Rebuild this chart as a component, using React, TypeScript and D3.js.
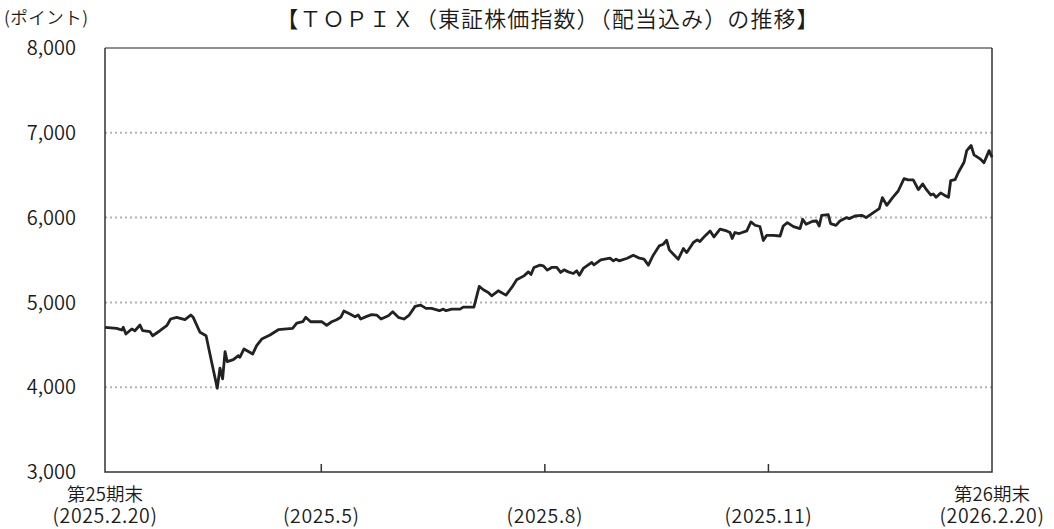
import { useEffect, useRef } from "react";
import * as d3 from "d3";

// days since 2025.2.20 (end of 25th term)
const days = [
  0, 4.8, 6.9, 7.5, 8.6, 11.0, 12.3, 14.4, 15.5, 18.5, 19.6, 22.6, 25.4, 27.0, 29.5, 32.9, 35.3, 36.3,
  39.1, 41.6, 43.9, 46.2, 47.3, 48.4, 49.4, 50.3, 52.8, 54.9, 55.5, 57.2, 60.8, 62.4, 64.5, 67.9, 71.3,
  77.2, 78.9, 81.4, 82.6, 84.6, 89.2, 91.2, 93.3, 95.3, 97.0, 98.3, 100.8, 102.9, 104.2, 105.2, 107.7,
  109.7, 111.8, 113.6, 116.6, 118.4, 120.7, 123.0, 125.2, 127.6, 129.9, 132.1, 134.4, 137.6, 139.2,
  140.3, 142.7, 146.1, 147.4, 151.8, 154.0, 155.7, 157.7, 159.1, 161.8, 165.0, 167.4, 169.4, 172.4,
  174.2, 175.3, 176.5, 179.0, 180.4, 182.0, 183.8, 185.9, 187.5, 188.9, 190.6, 192.7, 194.1, 195.2,
  196.8, 199.3, 200.3, 201.2, 204.0, 207.8, 209.2, 210.3, 211.6, 214.9, 217.4, 219.9, 221.8, 223.6,
  225.6, 228.1, 229.7, 231.1, 232.2, 234.1, 235.9, 238.0, 239.4, 242.1, 243.7, 244.8, 246.9, 249.0,
  250.6, 253.1, 255.8, 257.2, 258.1, 259.2, 261.0, 264.1, 265.8, 267.5, 269.5, 270.9, 272.3, 275.0,
  277.8, 279.1, 280.8, 283.3, 286.0, 287.1, 288.5, 291.2, 292.8, 293.9, 294.9, 297.6, 298.6, 300.8,
  302.4, 305.2, 306.3, 308.6, 311.4, 313.2, 316.2, 318.6, 319.9, 321.7, 324.1, 326.4, 328.8, 330.5,
  332.6, 334.7, 336.5, 338.1, 339.8, 340.8, 342.0, 343.9, 345.7, 347.1, 348.0, 349.8, 351.2, 353.5,
  354.6, 356.4, 357.6, 360.1, 361.7, 363.8, 365,
];

// TOPIX total return index (points)
const values = [
  4706, 4694, 4674, 4706, 4627, 4686, 4666, 4733, 4666, 4655, 4607, 4666, 4725, 4804, 4824, 4796, 4851, 4824,
  4647, 4607, 4294, 3988, 4224, 4098, 4419, 4301, 4325, 4372, 4353, 4451, 4392, 4490, 4568, 4615, 4678,
  4694, 4756, 4772, 4824, 4772, 4772, 4730, 4772, 4796, 4824, 4898, 4863, 4831, 4851, 4804, 4835,
  4855, 4851, 4804, 4843, 4890, 4824, 4804, 4851, 4953, 4968, 4929, 4929, 4902, 4921,
  4902, 4921, 4921, 4945, 4945, 5188, 5149, 5118, 5078, 5137, 5086, 5176, 5266, 5313,
  5360, 5329, 5412, 5439, 5431, 5380, 5412, 5412, 5353, 5384, 5360, 5341, 5372, 5321,
  5400, 5451, 5471, 5443, 5502, 5521, 5490, 5510, 5490, 5521, 5557, 5521, 5510, 5439,
  5557, 5667, 5686, 5733, 5619, 5561, 5510, 5635, 5588, 5706, 5737, 5718, 5784, 5843,
  5772, 5863, 5843, 5824, 5753, 5824, 5812, 5843, 5949, 5910, 5895, 5730, 5791, 5791,
  5783, 5901, 5941, 5894, 5870, 5980, 5921, 5957, 5960, 5901, 6027, 6035, 5929, 5909,
  5960, 6000, 5988, 6019, 6027, 6000, 6059, 6106, 6236, 6145, 6236, 6314, 6460, 6444,
  6444, 6330, 6397, 6326, 6267, 6279, 6240, 6291, 6259, 6240, 6437, 6448, 6535, 6653,
  6790, 6850, 6740, 6693, 6646, 6790, 6712,
];

const yTicks = [3000, 4000, 5000, 6000, 7000, 8000];
const xTickDays = [0, 89, 181, 273, 365];
const xTickTop = ["第25期末", "", "", "", "第26期末"];
const xTickBottom = ["(2025.2.20)", "(2025.5)", "(2025.8)", "(2025.11)", "(2026.2.20)"];

const title = "【ＴＯＰＩＸ（東証株価指数）（配当込み）の推移】";
const unitLabel = "(ポイント)";

const FONT = "'Noto Sans CJK JP', 'Noto Sans', sans-serif";

export default function App() {
  const svgRef = useRef<SVGSVGElement | null>(null);

  useEffect(() => {
    const svg = d3.select(svgRef.current);
    svg.selectAll("*").remove();

    const left = 105, right = 992, top = 48, bottom = 472;

    const x = d3.scaleLinear().domain([0, 365]).range([left, right]);
    const y = d3.scaleLinear().domain([3000, 8000]).range([bottom, top]);

    // dotted grid lines
    svg.append("g")
      .selectAll("line")
      .data(yTicks.filter(t => t > 3000 && t < 8000))
      .join("line")
      .attr("x1", left)
      .attr("x2", right)
      .attr("y1", d => y(d))
      .attr("y2", d => y(d))
      .attr("stroke", "#b3b3b3")
      .attr("stroke-width", 2)
      .attr("stroke-dasharray", "2,3");

    // frame
    svg.append("line")
      .attr("x1", left).attr("x2", right).attr("y1", top).attr("y2", top)
      .attr("stroke", "#6b6b6b").attr("stroke-width", 1.5);
    svg.append("path")
      .attr("d", `M${left},${top}V${bottom}H${right}V${top}`)
      .attr("fill", "none")
      .attr("stroke", "#333")
      .attr("stroke-width", 1.5);

    // x ticks (inside, pointing up)
    svg.append("g")
      .selectAll("line")
      .data(xTickDays.slice(1, -1))
      .join("line")
      .attr("x1", d => x(d))
      .attr("x2", d => x(d))
      .attr("y1", bottom)
      .attr("y2", bottom - 8)
      .attr("stroke", "#333")
      .attr("stroke-width", 1.5);

    // y labels
    svg.append("g")
      .selectAll("text")
      .data(yTicks)
      .join("text")
      .attr("x", 76)
      .attr("y", d => y(d))
      .attr("dy", "0.36em")
      .attr("text-anchor", "end")
      .attr("font-family", FONT)
      .attr("font-size", 20)
      .attr("font-weight", 350)
      .attr("fill", "#1a1a1a")
      .text(d => d3.format(",")(d));

    // x labels: one text each, optional first line via tspan
    const xl = svg.append("g")
      .selectAll("text")
      .data(xTickDays)
      .join("text")
      .attr("text-anchor", "middle")
      .attr("font-family", FONT)
      .attr("font-weight", 350)
      .attr("fill", "#1a1a1a");
    xl.filter((d, i) => xTickTop[i] !== "")
      .append("tspan")
      .attr("x", d => x(d))
      .attr("y", 501)
      .attr("font-size", 18.5)
      .text(d => xTickTop[xTickDays.indexOf(d)]);
    xl.append("tspan")
      .attr("x", d => x(d))
      .attr("y", 523)
      .attr("font-size", 19.5)
      .attr("letter-spacing", 0.6)
      .text(d => xTickBottom[xTickDays.indexOf(d)]);

    // unit label and title
    svg.append("text")
      .attr("x", 4)
      .attr("y", 24)
      .attr("font-family", FONT)
      .attr("font-size", 17.5)
      .attr("font-weight", 350)
      .attr("letter-spacing", 0.5)
      .attr("fill", "#1a1a1a")
      .text(unitLabel);

    svg.append("text")
      .attr("x", 548)
      .attr("y", 27)
      .attr("text-anchor", "middle")
      .attr("font-family", FONT)
      .attr("font-size", 22)
      .attr("font-weight", 350)
      .attr("letter-spacing", 1.1)
      .attr("fill", "#1a1a1a")
      .text(title);

    // index line
    const line = d3.line<number>()
      .x((d, i) => x(days[i]))
      .y(d => y(d));

    svg.append("path")
      .datum(values)
      .attr("fill", "none")
      .attr("stroke", "#222")
      .attr("stroke-width", 2.8)
      .attr("stroke-linejoin", "round")
      .attr("d", line);
  }, []);

  return (
    <svg
      ref={svgRef}
      width={1054}
      height={529}
      style={{ position: "absolute", left: 0, top: 0, background: "#fff" }}
    />
  );
}
